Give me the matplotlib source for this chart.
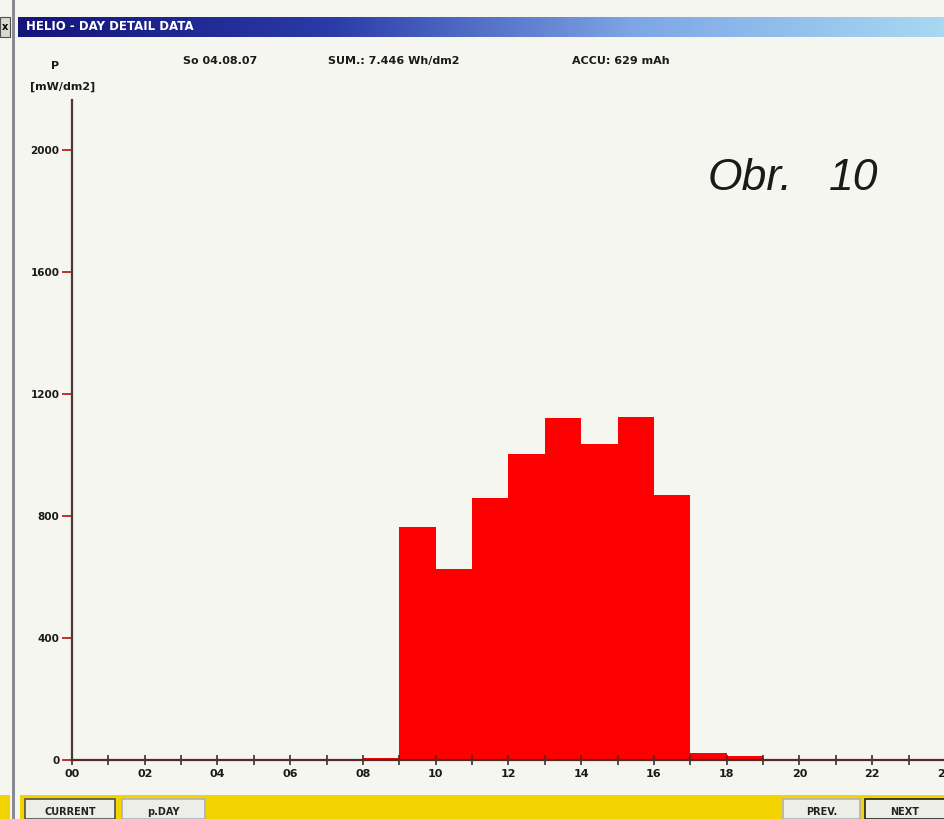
import numpy as np
import matplotlib.pyplot as plt
from matplotlib.patches import Rectangle
from matplotlib.colors import LinearSegmentedColormap

# hourly mean power, hour of day -> mW/dm2
hours = [8, 9, 10, 11, 12, 13, 14, 15, 16, 17, 18]
power = [5, 764, 626, 859, 1003, 1121, 1036, 1124, 869, 23, 13]

y_ticks = [0, 400, 800, 1200, 1600, 2000]
x_ticks = list(range(0, 25, 2))
x_labels = ["%02d" % h for h in x_ticks]

W, H = 945, 819
BG = "#f6f6f0"


def fx(x):
    return x / W


def fy(y):
    return 1 - y / H


fig = plt.figure(figsize=(W / 100, H / 100), dpi=100)
fig.patch.set_facecolor(BG)

# window title bar with blue gradient
tb = fig.add_axes([fx(18), fy(37), 1 - fx(18), 20 / H])
grad = np.linspace(0, 1, 256).reshape(1, -1)
cmap = LinearSegmentedColormap.from_list("tb", ["#14147a", "#2a3aa8", "#7ea6e6", "#a8d8f2"])
tb.imshow(grad, aspect="auto", cmap=cmap, extent=[0, 1, 0, 1])
tb.set_axis_off()
fig.text(fx(26), fy(27), "HELIO - DAY DETAIL DATA", color="white", fontsize=8.5,
         fontweight="bold", family="DejaVu Sans", va="center", ha="left")

# left frame line and close box
fig.add_artist(Rectangle((fx(12), 0), 3 / W, 1, transform=fig.transFigure,
                         facecolor="#8a8a90", edgecolor="none"))
fig.add_artist(Rectangle((0, fy(37)), fx(10), 20 / H, transform=fig.transFigure,
                         facecolor="#d8d8d0", edgecolor="#505050", lw=0.8))
fig.text(fx(5), fy(27), "x", fontsize=7, fontweight="bold", ha="center", va="center")

# header line
hdr = dict(fontsize=8, fontweight="bold", family="DejaVu Sans", va="center", color="#1a1a1a")
fig.text(fx(183), fy(61), "So 04.08.07", **hdr)
fig.text(fx(328), fy(61), "SUM.: 7.446 Wh/dm2", **hdr)
fig.text(fx(572), fy(61), "ACCU: 629 mAh", **hdr)
fig.text(fx(55), fy(66), "P", ha="center", **hdr)
fig.text(fx(30), fy(87), "[mW/dm2]", **hdr)

# plot area
x0, y0 = 72, 760
px_per_hour = 36.5
px_per_unit = 0.305
ax = fig.add_axes([fx(x0), fy(y0), 1 - fx(x0), (y0 - 100) / H])
ax.set_facecolor(BG)
ax.bar(hours, power, width=1.0, align="edge", color="#fe0000", edgecolor="none")
ax.set_xlim(0, (W - x0) / px_per_hour)
ax.set_ylim(0, (y0 - 100) / px_per_unit)

for s in ["top", "right"]:
    ax.spines[s].set_visible(False)
ax.spines["left"].set_color("#4a3a34")
ax.spines["left"].set_linewidth(1.6)
ax.spines["bottom"].set_color("#5a2a28")
ax.spines["bottom"].set_linewidth(1.6)

ax.set_yticks(y_ticks)
ax.set_yticklabels([str(v) for v in y_ticks])
ax.set_xticks(x_ticks)
ax.set_xticklabels(x_labels)
ax.set_xticks(range(0, 25), minor=True)
ax.tick_params(axis="y", direction="out", length=7, width=1.4, color="#c03030",
               labelsize=7.5, pad=2)
ax.tick_params(axis="x", which="both", direction="inout", length=7, width=1.2,
               color="#3a3030", labelsize=8, pad=3)
for lab in ax.get_xticklabels() + ax.get_yticklabels():
    lab.set_fontweight("bold")
    lab.set_color("#1a1a1a")

obr = dict(fontsize=32, style="italic", family="Liberation Sans", va="center",
           color="#1a1a1a")
fig.text(fx(708), fy(178), "Obr.", ha="left", **obr)
fig.text(fx(878), fy(178), "10", ha="right", **obr)

# bottom button strip
fig.add_artist(Rectangle((fx(20), 0), 1, 24 / H, transform=fig.transFigure,
                         facecolor="#f2d400", edgecolor="none"))
fig.add_artist(Rectangle((0, 0), fx(10), 24 / H, transform=fig.transFigure,
                         facecolor="#f2d400", edgecolor="none"))
buttons = [("CURRENT", 25, 115, "#505050"), ("p.DAY", 122, 205, "#b0b0c0"),
           ("PREV.", 783, 860, "#b0b0c0"), ("NEXT", 865, 945, "#202020")]
for label, bx0, bx1, edge in buttons:
    fig.add_artist(Rectangle((fx(bx0), 0), (bx1 - bx0) / W, 20 / H,
                             transform=fig.transFigure, facecolor="#eeeee8",
                             edgecolor=edge, lw=1.2))
    fig.text(fx((bx0 + bx1) / 2), fy(812), label, fontsize=7, fontweight="bold",
             ha="center", va="center", color="#222222")

fig.savefig("out.png", dpi=100, facecolor=fig.get_facecolor())
